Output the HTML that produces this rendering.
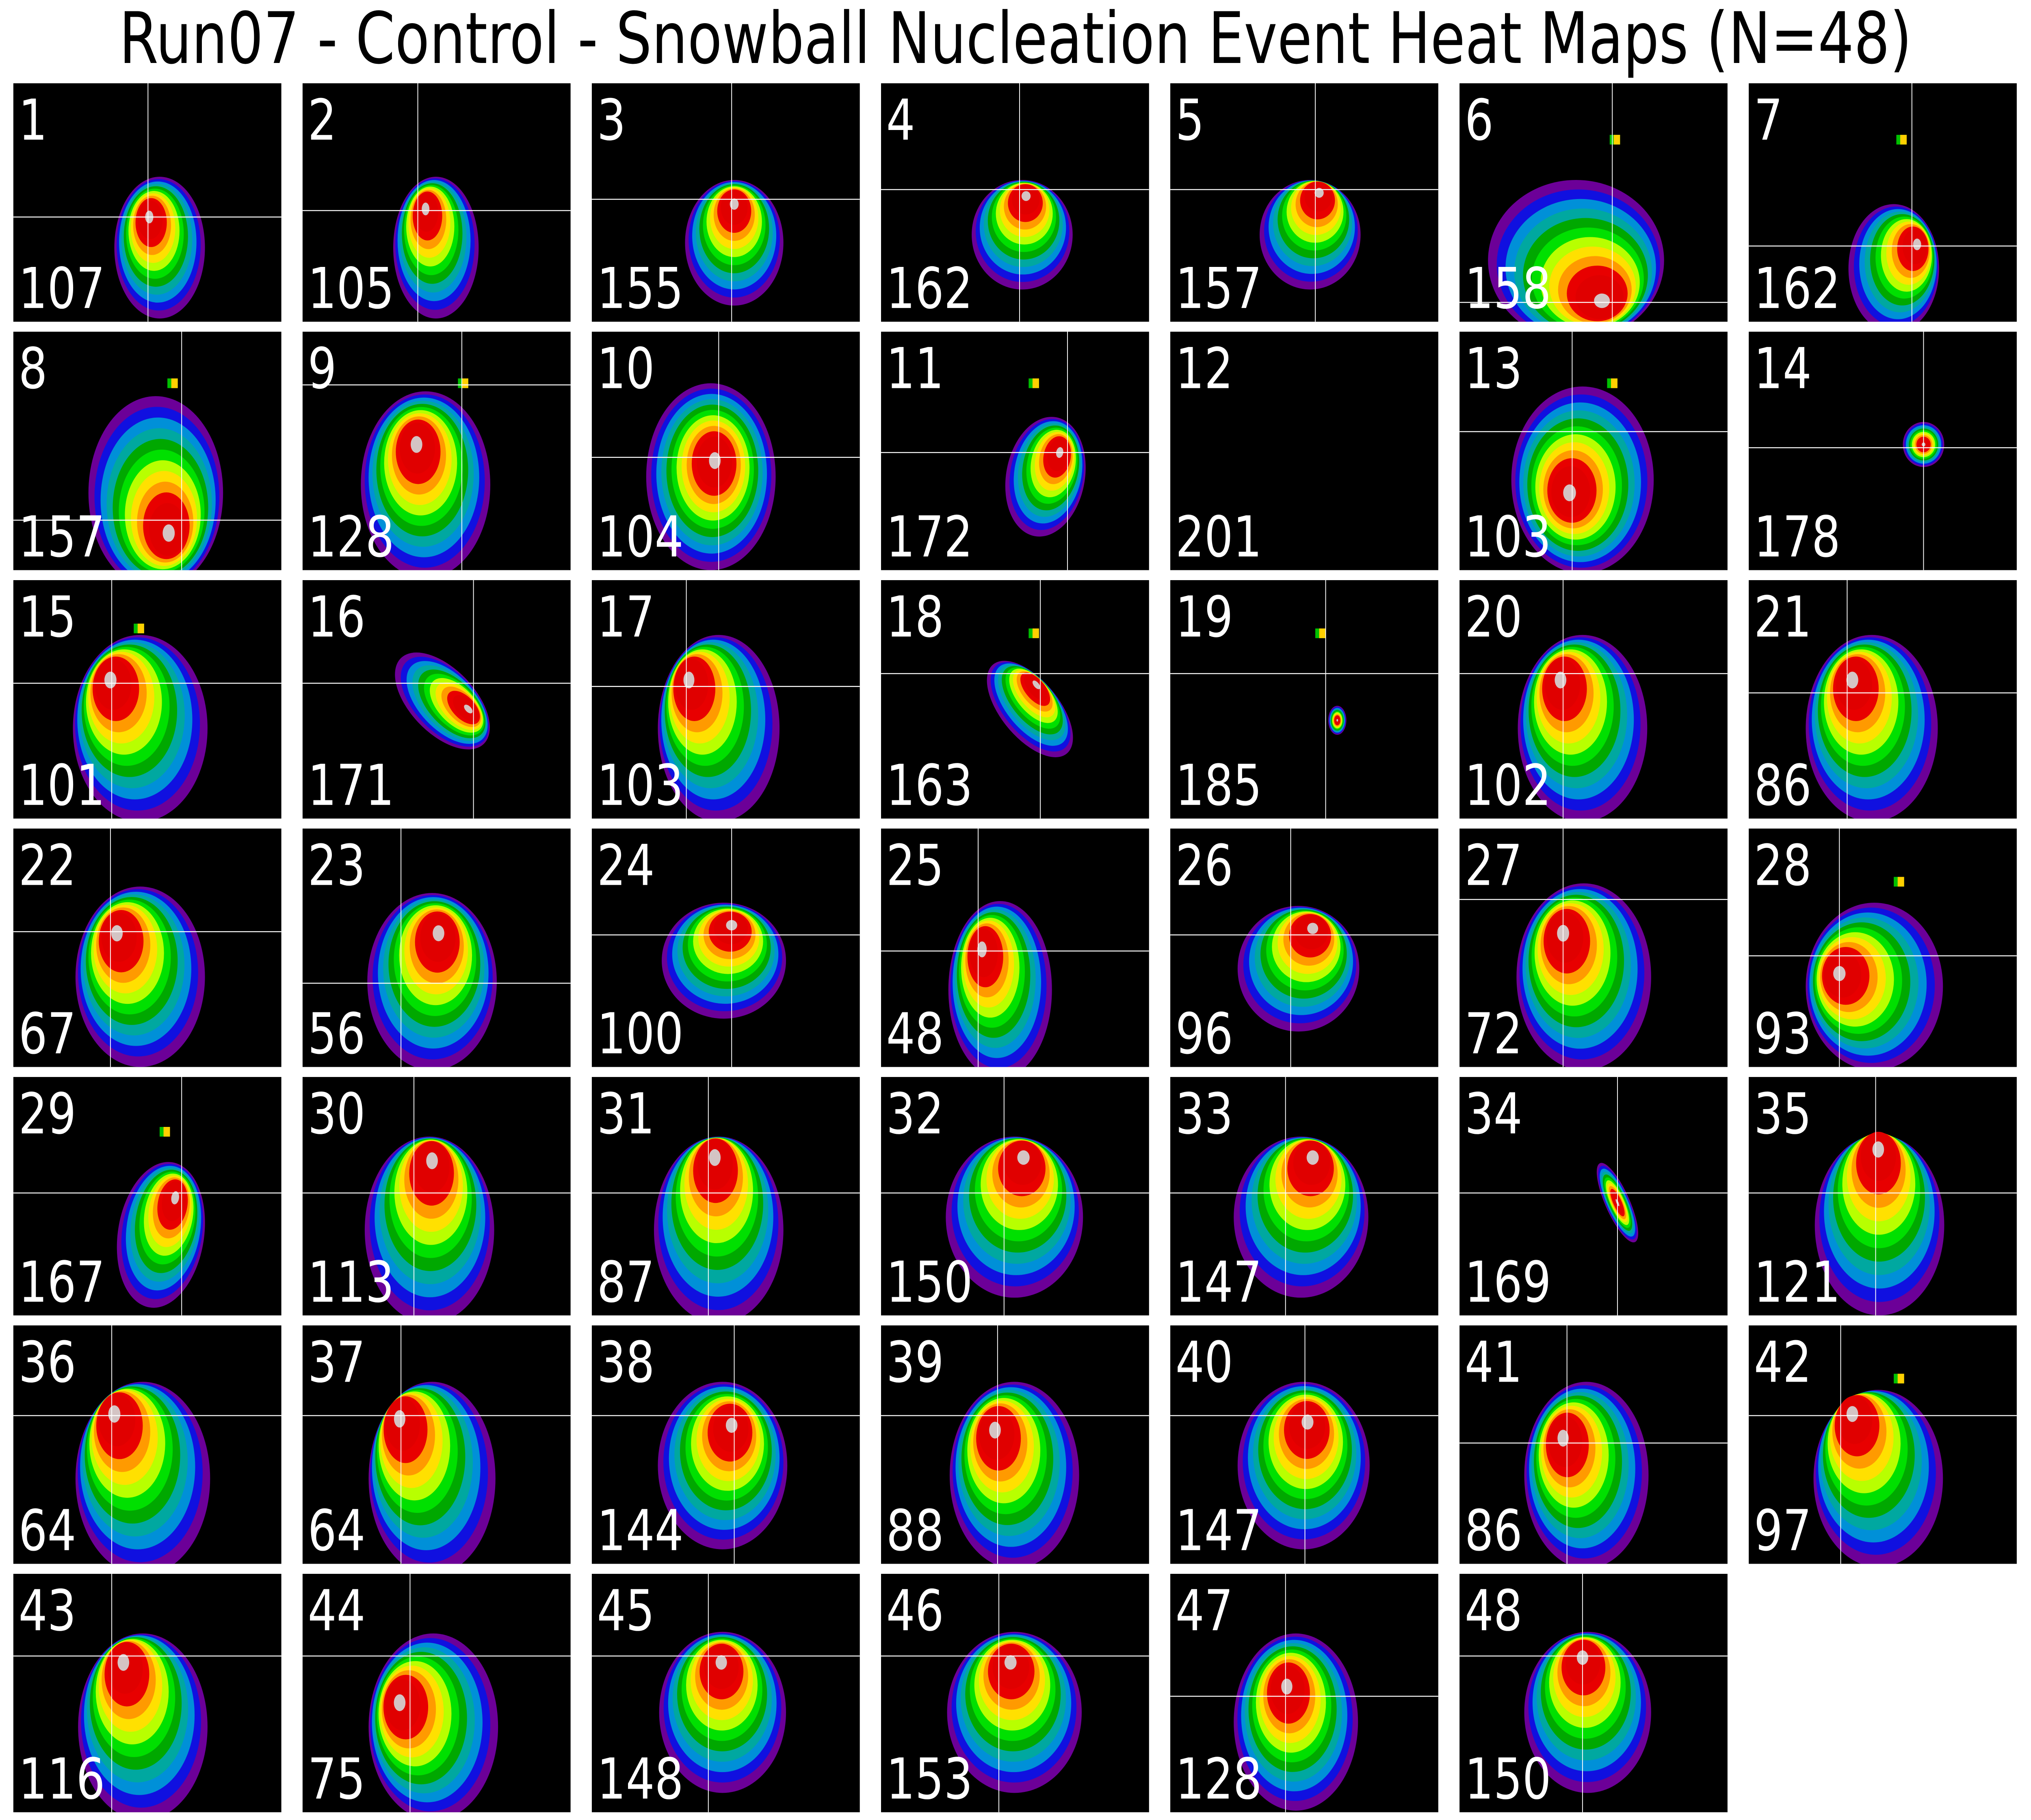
<!DOCTYPE html>
<html><head><meta charset="utf-8"><style>
html,body{margin:0;padding:0;background:#fff;width:100vw;height:100vh;overflow:hidden;}
svg{display:block;position:absolute;left:0;top:0;width:100vw;height:100vh;}
</style></head><body>
<svg id="fig" xmlns="http://www.w3.org/2000/svg" viewBox="0 0 1568 1127.5" preserveAspectRatio="none">
<rect x="0" y="0" width="1568" height="1127.5" fill="#fff"/>
<text x="784" y="39" text-anchor="middle" font-family="DejaVu Sans, Liberation Sans, sans-serif" font-size="44" textLength="1384" lengthAdjust="spacingAndGlyphs" fill="#000">Run07 - Control - Snowball Nucleation Event Heat Maps (N=48)</text>
<g id="panels"></g>
</svg>
<script>
// Panel data (units: pixels within a 207x148 panel)
const panelIds = [1,2,3,4,5,6,7,8,9,10,11,12,13,14,15,16,17,18,19,20,21,22,23,24,25,26,27,28,29,30,31,32,33,34,35,36,37,38,39,40,41,42,43,44,45,46,47,48];
const bottomValues = [107,105,155,162,157,158,162,157,128,104,172,201,103,178,101,171,103,163,185,102,86,67,56,100,48,96,72,93,167,113,87,150,147,169,121,64,64,144,88,147,86,97,116,75,148,153,128,150];
const blobCx = [113,103,110,109,108,90,112,110,95,92,127,null,95,135,98,108,98,115,129,95,95,98,100,102,92,99,96,97,114,98,98,103,101,122,101,100,100,101,103,103,98,100,100,101,101,103,97,99];
const blobCy = [102,102,99,94,94,110,115,100,95,90,90,null,92,70,92,75,92,80,87,92,92,92,95,82,100,87,92,98,98,95,95,87,87,78,92,95,95,87,93,87,93,95,95,95,86,86,92,86];
const blobRx = [35,33,38,39,39,68,35,52,50,50,30,null,55,16,52,42,47,40,7,50,51,50,50,48,40,47,52,53,33,50,50,53,52,28,50,52,49,50,50,51,48,50,50,50,49,52,48,49];
const blobRy = [44,44,39,34,34,50,40,60,58,58,38,null,58,14,58,22,58,20,9,58,58,56,55,36,55,39,58,52,46,58,58,50,50,9,56,60,60,52,58,52,58,55,58,58,50,50,55,50];
const blobRot = [0,0,0,0,0,0,0,0,0,0,20,0,0,0,0,35,0,40,0,0,0,0,0,0,0,0,0,0,15,0,0,0,0,60,0,0,0,0,0,0,0,0,0,0,0,0,0,0];
const hotX = [105,95,110,112,115,110,130,120,88,95,138,null,85,135,75,128,75,120,129,78,80,80,105,108,78,110,80,70,125,100,95,110,110,122,100,78,75,108,88,106,80,80,85,75,100,100,90,95];
const hotY = [83,78,75,70,68,135,100,125,70,80,75,null,100,70,62,80,62,65,87,62,62,65,65,60,75,62,65,90,75,52,50,50,50,78,45,55,58,62,65,60,70,55,55,80,55,55,70,52];
const dotX = [null,null,null,null,null,120,118,123,124,null,118,null,118,null,97,null,null,118,116,null,null,null,null,null,null,null,null,116,117,null,null,null,null,null,null,null,null,null,null,null,null,116,null,null,null,null,null,null];
const dotY = [null,null,null,null,null,35,35,32,32,null,32,null,32,null,30,null,null,33,33,null,null,null,null,null,null,null,null,33,34,null,null,null,null,null,null,null,null,null,null,null,null,33,null,null,null,null,null,null];
const crossX = [104,89,108,107,112,118,126,130,123,98,144,null,87,135,76,132,73,123,120,80,76,75,76,108,75,93,80,70,130,86,90,95,89,122,98,76,76,110,90,104,83,71,76,83,90,91,89,95];
const crossY = [83,79,72,66,66,136,101,117,33,78,75,null,62,72,64,64,66,58,58,58,70,64,96,66,76,66,44,79,72,72,72,72,72,72,72,56,56,56,56,56,73,56,51,51,51,51,76,51];

const colors = ['#6c0098','#1010e0','#0090d8','#00a8a0','#00a800','#00e000','#b8ff00','#ffe000','#ff9a00','#e80000','#e00000','#d4c4c4'];
const NS = 'http://www.w3.org/2000/svg';
const X0 = 10.3, Y0 = 51.6, PW = 206.9, PH = 147.7, DX = 223.3, DY = 153.9, SX = PW/207, SY = PH/148;
const root = document.getElementById('panels');

function mk(tag, attrs){ const e = document.createElementNS(NS, tag); for (const k in attrs) e.setAttribute(k, attrs[k]); return e; }

panelIds.forEach((id, i) => {
  const col = i % 7, row = Math.floor(i / 7);
  const px = X0 + col*DX, py = Y0 + row*DY;
  const g = mk('g', {transform: `translate(${px},${py}) scale(${SX},${SY})`});
  
  
  const clipId = 'clip' + id;
  const cp = mk('clipPath', {id: clipId});
  cp.appendChild(mk('rect', {x:0, y:0, width:207, height:148}));
  g.appendChild(cp);
  const bg = mk('rect', {x:0, y:0, width:207, height:148, fill:'#000'});
  
  
  g.appendChild(bg);
  const inner = mk('g', {'clip-path': `url(#${clipId})`});
  g.appendChild(inner);
  if (blobCx[i] !== null) {
    const blob = mk('g', {});
    
    
    const n = colors.length;
    for (let k = 0; k < n; k++) {
      const t = k / (n - 1);
      const cx = blobCx[i] + (hotX[i] - blobCx[i]) * t;
      const cy = blobCy[i] + (hotY[i] - blobCy[i]) * t;
      const f = k === n-1 ? 0.09 : (1 - 0.8 * t);
      const e = mk('ellipse', {cx: cx, cy: cy, rx: blobRx[i]*f, ry: blobRy[i]*f, fill: colors[k],
        transform: `rotate(${blobRot[i]} ${cx} ${cy})`});
      blob.appendChild(e);
    }
    inner.appendChild(blob);
  }
  if (dotX[i] !== null) {
    const d = mk('g', {});
    
    
    d.appendChild(mk('rect', {x: dotX[i]-4, y: dotY[i]-3, width: 8, height: 6, fill: '#00c000'}));
    d.appendChild(mk('rect', {x: dotX[i]-1, y: dotY[i]-3, width: 5, height: 6, fill: '#ffd000'}));
    inner.appendChild(d);
  }
  if (crossX[i] !== null) {
    const v = mk('line', {x1: crossX[i], x2: crossX[i], y1: 0, y2: 148, stroke: '#fff', 'stroke-width': 0.6});
    
    
    inner.appendChild(v);
    const h = mk('line', {x1: 0, x2: 207, y1: crossY[i], y2: crossY[i], stroke: '#fff', 'stroke-width': 0.6});
    
    
    inner.appendChild(h);
  }
  const t1 = mk('text', {x: 4, y: 35, fill: '#fff', 'font-family': 'DejaVu Sans, Liberation Sans, sans-serif', 'font-size': 35});
  t1.textContent = id;
  
  
  g.appendChild(t1);
  const t2 = mk('text', {x: 4, y: 139.5, fill: '#fff', 'font-family': 'DejaVu Sans, Liberation Sans, sans-serif', 'font-size': 35});
  t2.textContent = bottomValues[i];
  
  
  g.appendChild(t2);
  root.appendChild(g);
});
</script>
</body></html>
